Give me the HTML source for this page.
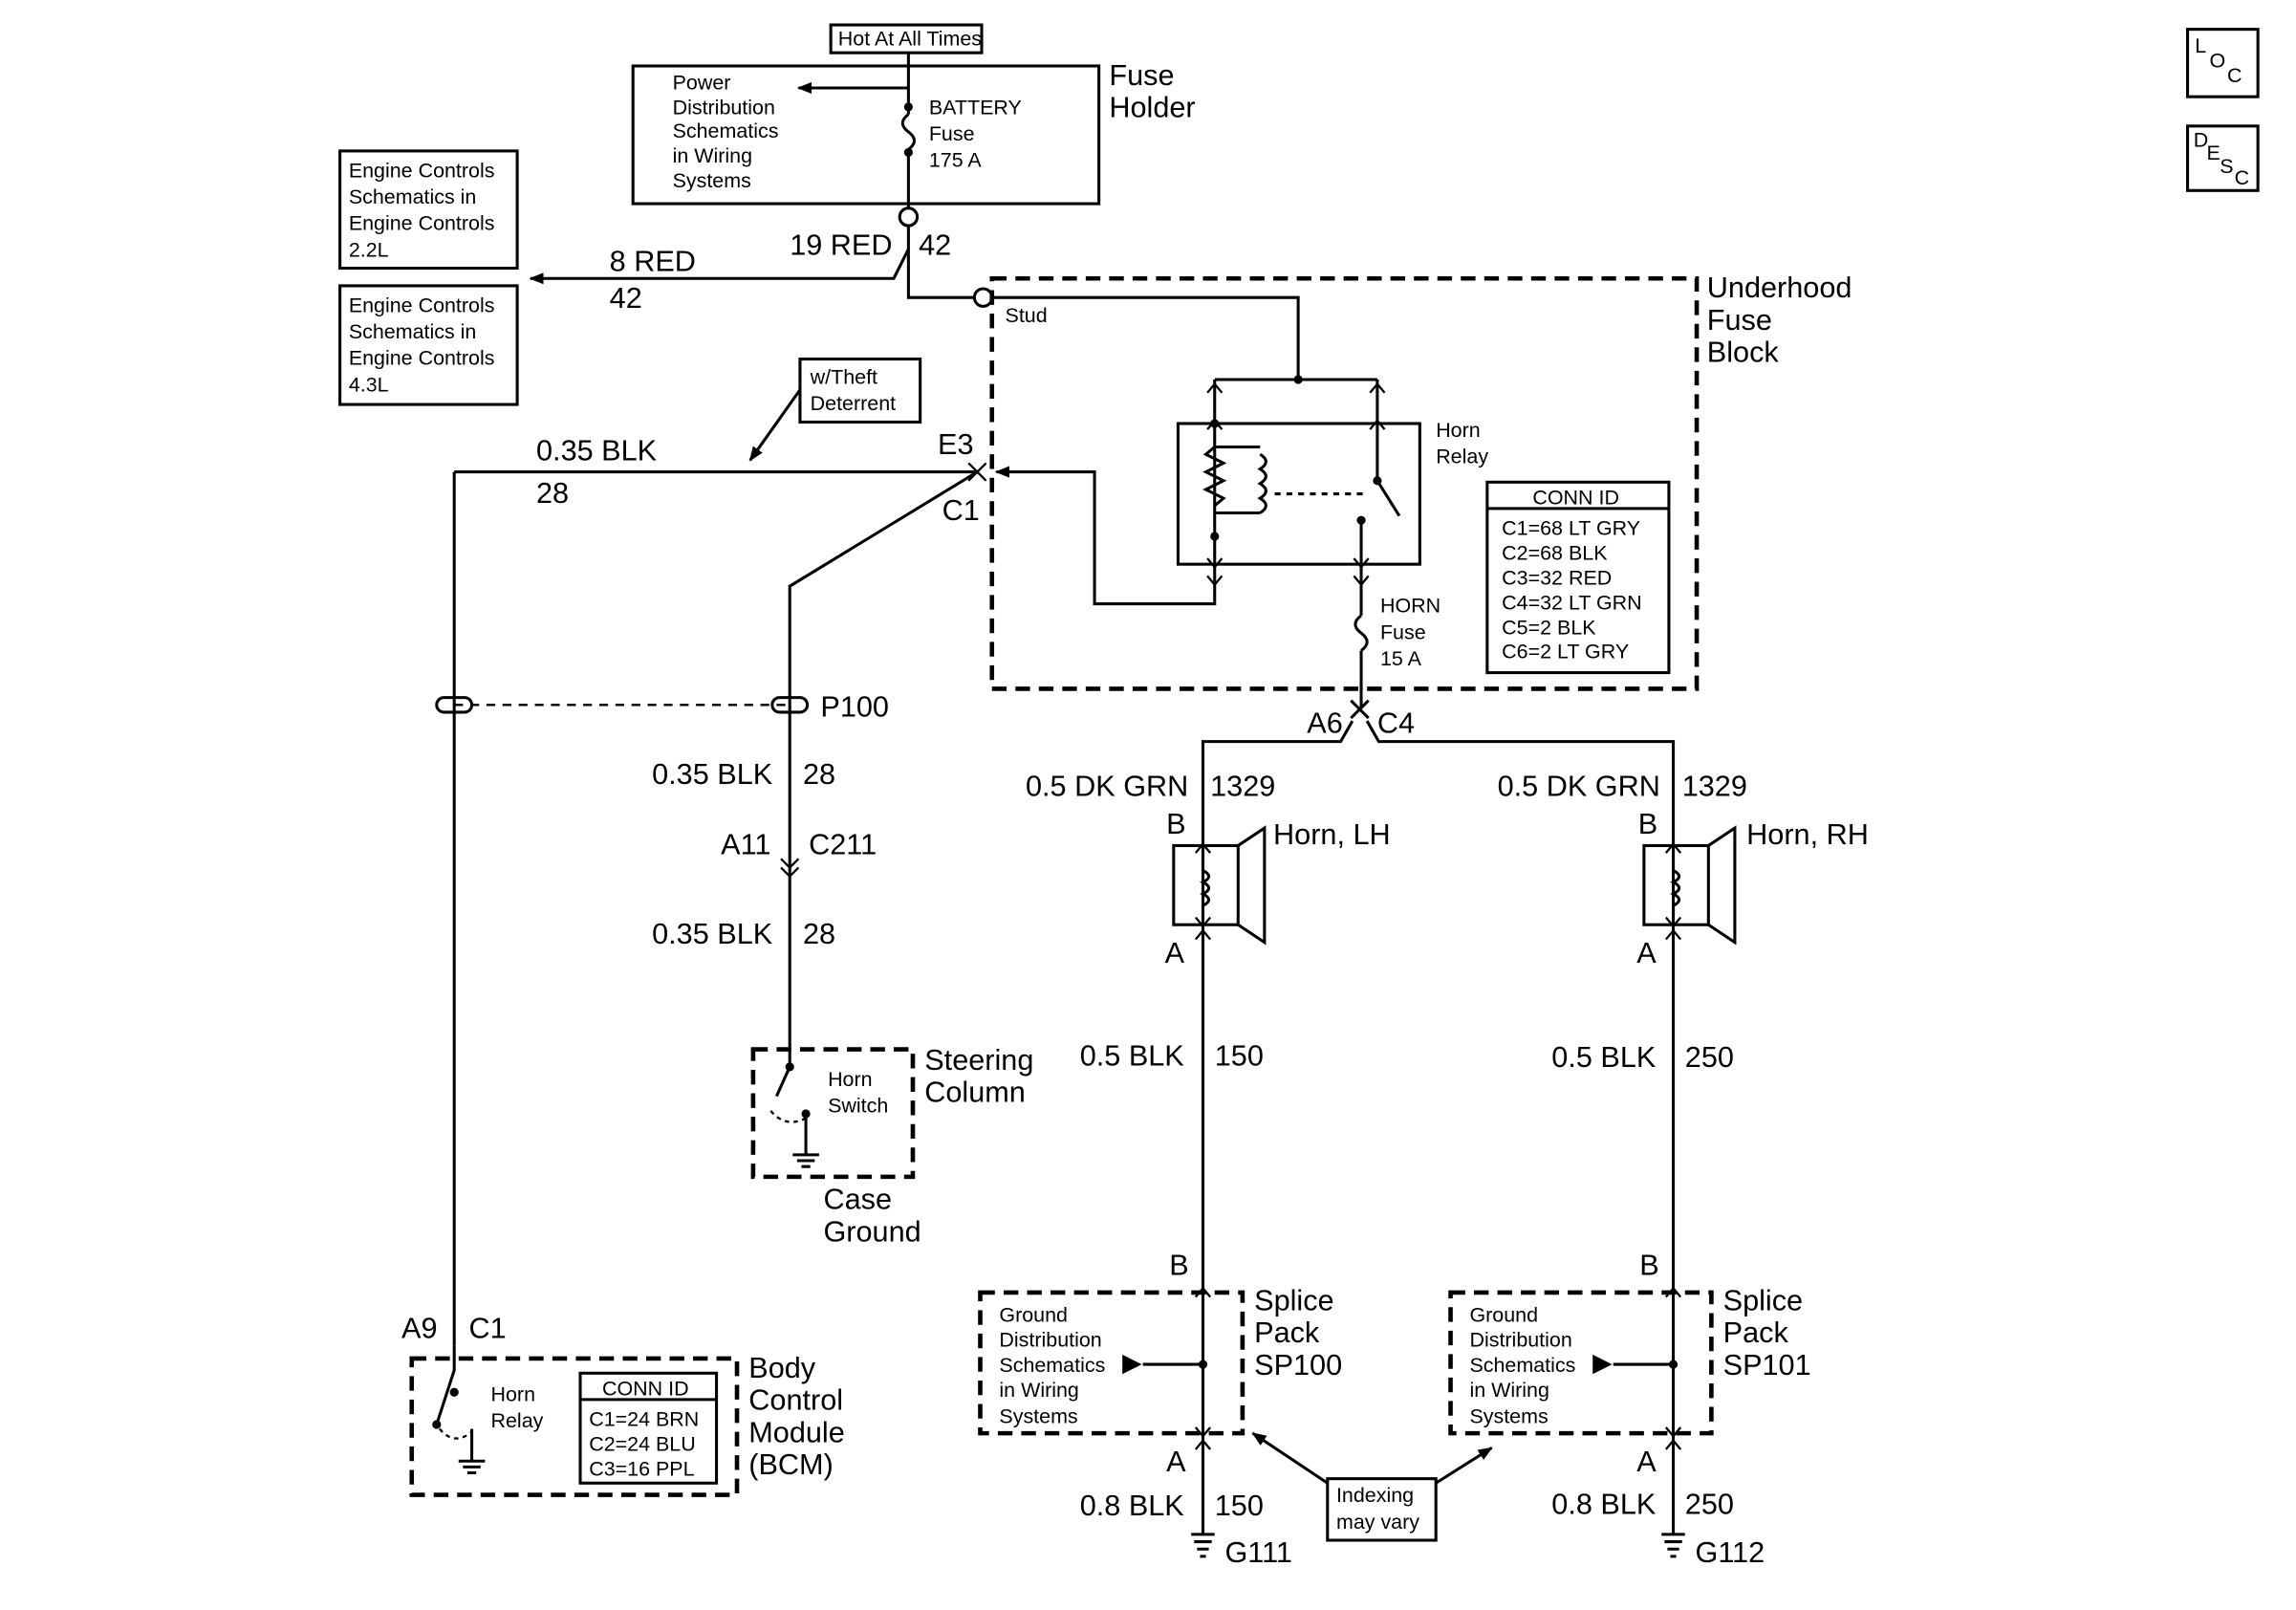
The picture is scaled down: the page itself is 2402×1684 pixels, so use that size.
<!DOCTYPE html>
<html><head><meta charset="utf-8"><style>
html,body{margin:0;padding:0;background:#fff}
svg{display:block}
text{font-family:"Liberation Sans",Arial,sans-serif;fill:#000}
.s{font-size:14px}.l{font-size:20px}
</style></head><body>
<svg width="2402" height="1684" viewBox="0 0 1567 1098.6" xmlns="http://www.w3.org/2000/svg">
<defs><marker id="ah" markerWidth="10" markerHeight="8" refX="9" refY="4" orient="auto" markerUnits="userSpaceOnUse"><path d="M0,0 L10,4 L0,8 z" fill="#000"/></marker></defs>
<g fill="none" stroke="#000" stroke-width="2">
<rect x="567" y="17" width="103" height="19"/>
<rect x="432" y="45" width="318" height="94"/>
<line x1="620" y1="36" x2="620" y2="78"/>
<path d="M620,78 q-8,6 0,12 q8,6 0,12"/>
<line x1="620" y1="102" x2="620" y2="142"/>
<line x1="620" y1="60" x2="545" y2="60" marker-end="url(#ah)"/>
<circle cx="620" cy="148" r="6"/>
<path d="M620,154 V203 H665"/>
<circle cx="671" cy="203" r="6"/>
<path d="M620,170 L610,190 H362" marker-end="url(#ah)"/>
<rect x="232" y="103" width="121" height="80"/>
<rect x="232" y="195" width="121" height="81"/>
<rect x="546" y="245" width="82" height="43"/>
<line x1="546" y1="266" x2="512" y2="314" marker-end="url(#ah)"/>
<rect x="677" y="190" width="481" height="280" stroke-dasharray="10,6" stroke-width="3"/>
<path d="M677,203 H886 V259"/>
<line x1="829" y1="259" x2="940" y2="259"/>
<rect x="804" y="289" width="165" height="96"/>
<path d="M829,259 V412 H747 V322 H680" marker-end="url(#ah)"/>
<path d="M824,268 l5,-6 l5,6 M935,268 l5,-6 l5,6 M824,293 l5,-6 l5,6 M935,293 l5,-6 l5,6 M824,381 l5,6 l5,-6 M924,381 l5,6 l5,-6 M824,393 l5,6 l5,-6 M924,393 l5,6 l5,-6" stroke-width="1.5"/>
<path d="M829,305 l-6,5 l12,6 l-12,6 l12,6 l-12,6 l12,6 l-6,5" />
<path d="M829,305 H860 M829,350 H860"/>
<path d="M860,310 q8,5 0,10 q8,5 0,10 q8,5 0,10 q8,5 0,10"/>
<line x1="870" y1="337" x2="930" y2="337" stroke-dasharray="4,4"/>
<path d="M940,259 V328 L955,352"/>
<path d="M929,355 V385 M929,385 V420"/>
<path d="M929,420 q-8,6 0,12 q8,6 0,12"/>
<line x1="929" y1="444" x2="929" y2="483"/>
<rect x="1015" y="329" width="124" height="130"/>
<line x1="1015" y1="347" x2="1139" y2="347"/>
<line x1="310" y1="322" x2="667" y2="322"/>
<path d="M661,316 L673,328 M673,316 L661,328" stroke-width="1.5"/>
<path d="M667,322 L539,400 V716"/>
<line x1="310" y1="322" x2="310" y2="918"/>
<line x1="310" y1="481" x2="539" y2="481" stroke-dasharray="6,5" stroke-width="1.5"/>
<rect x="298" y="476" width="24" height="10" rx="5"/>
<rect x="527" y="476" width="24" height="10" rx="5"/>
<path d="M533,586 l6,6 l6,-6 M533,592 l6,6 l6,-6" stroke-width="1.5"/>
<rect x="514" y="716" width="109" height="87" stroke-dasharray="10,6" stroke-width="3"/>
<path d="M539,716 V728 L530,748"/>
<path d="M526,758 q10,12 24,5" stroke-dasharray="3,3" stroke-width="1.5"/>
<line x1="550" y1="760" x2="550" y2="788"/>
<path d="M541,788 H559 M544,792 H556 M547,796 H553"/>
<rect x="281" y="927" width="222" height="93" stroke-dasharray="10,6" stroke-width="3"/>
<path d="M310,918 V935 L298,972"/>
<path d="M300,975 q10,12 22,2" stroke-dasharray="3,3" stroke-width="1.5"/>
<line x1="322" y1="975" x2="322" y2="997"/>
<path d="M313,997 H331 M316,1001 H328 M319,1005 H325"/>
<rect x="396" y="937" width="93" height="75"/>
<line x1="396" y1="955" x2="489" y2="955"/>
<path d="M922,478 L934,490 M934,478 L922,490"/>
<path d="M923,492 L915,506 H821 V1047 M933,492 L941,506 H1142 V1047"/>
<path d="M816,582 l5,-6 l5,6 M1137,582 l5,-6 l5,6 M816,626 l5,6 l5,-6 M1137,626 l5,6 l5,-6 M816,641 l5,-6 l5,6 M1137,641 l5,-6 l5,6 M816,885 l5,-6 l5,6 M1137,885 l5,-6 l5,6 M816,974 l5,6 l5,-6 M1137,974 l5,6 l5,-6 M816,989 l5,-6 l5,6 M1137,989 l5,-6 l5,6" stroke-width="1.5"/>
<rect x="801" y="577" width="44" height="54"/>
<path d="M845,577 L863,565 V643 L845,631"/>
<path d="M821,580 V594 q8,4 0,8 q8,4 0,8 q8,4 0,8 V628"/>
<rect x="1122" y="577" width="44" height="54"/>
<path d="M1166,577 L1184,565 V643 L1166,631"/>
<path d="M1142,580 V594 q8,4 0,8 q8,4 0,8 q8,4 0,8 V628"/>
<rect x="669" y="882" width="179" height="96" stroke-dasharray="10,6" stroke-width="3"/>
<rect x="990" y="882" width="178" height="96" stroke-dasharray="10,6" stroke-width="3"/>
<line x1="780" y1="931" x2="821" y2="931"/>
<line x1="1101" y1="931" x2="1142" y2="931"/>
<path d="M767,926 l10,5 l-10,5z M1088,926 l10,5 l-10,5z" fill="#000"/>
<path d="M813,1047 H829 M815,1052 H827 M817,1057 H825 M819,1062 H823"/>
<path d="M1134,1047 H1150 M1136,1052 H1148 M1138,1057 H1146 M1140,1062 H1144"/>
<rect x="906" y="1009" width="74" height="42"/>
<line x1="906" y1="1012" x2="855" y2="978" marker-end="url(#ah)"/>
<line x1="980" y1="1012" x2="1018" y2="988" marker-end="url(#ah)"/>
<rect x="1493" y="20" width="48" height="46"/>
<rect x="1493" y="86" width="48" height="44"/>
</g>
<g fill="#000">
<circle cx="620" cy="73" r="3"/><circle cx="620" cy="104" r="3"/>
<circle cx="886" cy="259" r="3"/><circle cx="829" cy="289" r="3"/><circle cx="829" cy="366" r="3"/>
<circle cx="940" cy="328" r="3"/><circle cx="929" cy="355" r="3"/>
<circle cx="821" cy="931" r="3"/><circle cx="1142" cy="931" r="3"/>
<circle cx="550" cy="760" r="3"/><circle cx="539" cy="728" r="3"/>
<circle cx="310" cy="950" r="3"/><circle cx="298" cy="972" r="3"/>
</g>
<g class="s">
<text x="572" y="31">Hot At All Times</text>
<text x="459" y="61">Power</text><text x="459" y="78">Distribution</text><text x="459" y="94">Schematics</text><text x="459" y="111">in Wiring</text><text x="459" y="128">Systems</text>
<text x="634" y="78">BATTERY</text><text x="634" y="96">Fuse</text><text x="634" y="114">175 A</text>
<text x="238" y="121">Engine Controls</text><text x="238" y="139">Schematics in</text><text x="238" y="157">Engine Controls</text><text x="238" y="175">2.2L</text>
<text x="238" y="213">Engine Controls</text><text x="238" y="231">Schematics in</text><text x="238" y="249">Engine Controls</text><text x="238" y="267">4.3L</text>
<text x="553" y="262">w/Theft</text><text x="553" y="280">Deterrent</text>
<text x="686" y="220">Stud</text>
<text x="980" y="298">Horn</text><text x="980" y="316">Relay</text>
<text x="942" y="418">HORN</text><text x="942" y="436">Fuse</text><text x="942" y="454">15 A</text>
<text x="1046" y="344">CONN ID</text>
<text x="1025" y="365">C1=68 LT GRY</text><text x="1025" y="382">C2=68 BLK</text><text x="1025" y="399">C3=32 RED</text><text x="1025" y="416">C4=32 LT GRN</text><text x="1025" y="433">C5=2 BLK</text><text x="1025" y="449">C6=2 LT GRY</text>
<text x="565" y="741">Horn</text><text x="565" y="759">Switch</text>
<text x="335" y="956">Horn</text><text x="335" y="974">Relay</text>
<text x="411" y="952">CONN ID</text>
<text x="402" y="973">C1=24 BRN</text><text x="402" y="990">C2=24 BLU</text><text x="402" y="1007">C3=16 PPL</text>
<text x="682" y="902">Ground</text><text x="682" y="919">Distribution</text><text x="682" y="936">Schematics</text><text x="682" y="953">in Wiring</text><text x="682" y="971">Systems</text>
<text x="1003" y="902">Ground</text><text x="1003" y="919">Distribution</text><text x="1003" y="936">Schematics</text><text x="1003" y="953">in Wiring</text><text x="1003" y="971">Systems</text>
<text x="912" y="1025">Indexing</text><text x="912" y="1043">may vary</text>
<text x="1498" y="36">L</text><text x="1508" y="46">O</text><text x="1520" y="56">C</text>
<text x="1497" y="100">D</text><text x="1506" y="109">E</text><text x="1515" y="118">S</text><text x="1525" y="126">C</text>
</g>
<g class="l">
<text x="757" y="58">Fuse</text><text x="757" y="80">Holder</text>
<text x="539" y="174">19 RED</text><text x="627" y="174">42</text>
<text x="416" y="185">8 RED</text><text x="416" y="210">42</text>
<text x="1165" y="203">Underhood</text><text x="1165" y="225">Fuse</text><text x="1165" y="247">Block</text>
<text x="366" y="314">0.35 BLK</text><text x="366" y="343">28</text>
<text x="640" y="310">E3</text><text x="643" y="355">C1</text>
<text x="560" y="489">P100</text>
<text x="445" y="535">0.35 BLK</text><text x="548" y="535">28</text>
<text x="492" y="583">A11</text><text x="552" y="583">C211</text>
<text x="445" y="644">0.35 BLK</text><text x="548" y="644">28</text>
<text x="631" y="730">Steering</text><text x="631" y="752">Column</text>
<text x="562" y="825">Case</text><text x="562" y="847">Ground</text>
<text x="274" y="913">A9</text><text x="320" y="913">C1</text>
<text x="511" y="940">Body</text><text x="511" y="962">Control</text><text x="511" y="984">Module</text><text x="511" y="1006">(BCM)</text>
<text x="892" y="500">A6</text><text x="940" y="500">C4</text>
<text x="700" y="543">0.5 DK GRN</text><text x="826" y="543">1329</text>
<text x="1022" y="543">0.5 DK GRN</text><text x="1148" y="543">1329</text>
<text x="796" y="569">B</text><text x="1118" y="569">B</text>
<text x="869" y="576">Horn, LH</text><text x="1192" y="576">Horn, RH</text>
<text x="795" y="657">A</text><text x="1117" y="657">A</text>
<text x="737" y="727">0.5 BLK</text><text x="829" y="727">150</text>
<text x="1059" y="728">0.5 BLK</text><text x="1150" y="728">250</text>
<text x="798" y="870">B</text><text x="1119" y="870">B</text>
<text x="856" y="894">Splice</text><text x="856" y="916">Pack</text><text x="856" y="938">SP100</text>
<text x="1176" y="894">Splice</text><text x="1176" y="916">Pack</text><text x="1176" y="938">SP101</text>
<text x="796" y="1004">A</text><text x="1117" y="1004">A</text>
<text x="737" y="1034">0.8 BLK</text><text x="829" y="1034">150</text>
<text x="1059" y="1033">0.8 BLK</text><text x="1150" y="1033">250</text>
<text x="836" y="1066">G111</text><text x="1157" y="1066">G112</text>
</g>
</svg>
</body></html>
